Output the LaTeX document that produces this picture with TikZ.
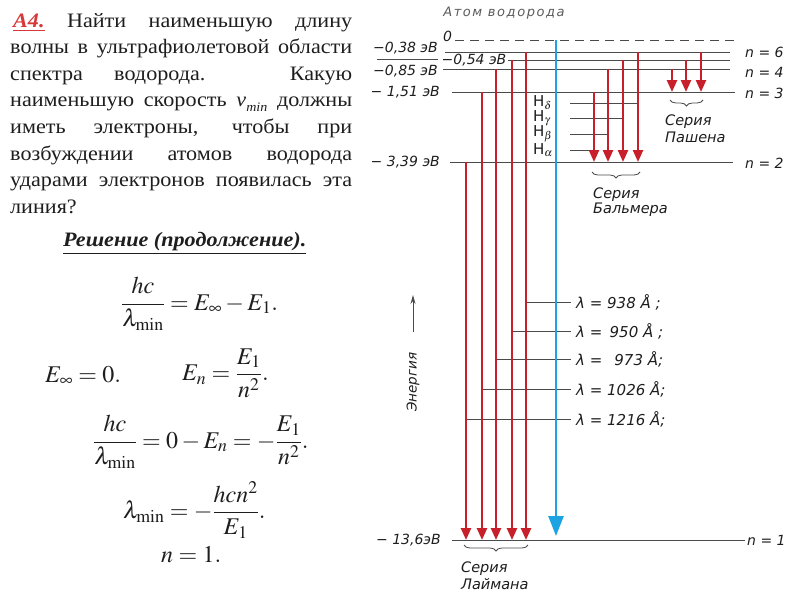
\documentclass[tikz,border=0pt]{standalone}
\usepackage{mathptmx}
\usepackage{fontspec}
\setmainfont{Liberation Serif}
\newfontfamily\paraf{Liberation Serif}[FakeStretch=1.08]
\newfontfamily\dg{DejaVu Sans}
\newfontfamily\dgsp{DejaVu Sans}[LetterSpace=12]
\usetikzlibrary{arrows.meta,decorations.pathreplacing}
\definecolor{lv}{HTML}{4A4A4A}
\definecolor{rd}{HTML}{C8202A}
\definecolor{bl}{HTML}{1CA3E2}
\definecolor{txt}{HTML}{1E1E1E}
\definecolor{redA}{HTML}{D83838}
\newcommand{\tl}[1]{\makebox[342pt][s]{#1}}
\begin{document}
\begin{tikzpicture}[x=1pt,y=-1pt,
  lvl/.style={draw=lv,line width=0.9pt},
  lead/.style={draw=lv,line width=0.8pt},
  redarrow/.style={draw=rd,line width=2.4pt,-{Triangle[width=10pt,length=12pt]}},
  bluearrow/.style={draw=bl,line width=2.6pt,-{Triangle[width=15pt,length=20pt]}},
  lab/.style={font=\dg\itshape\fontsize{14}{16}\selectfont,text=txt,inner sep=0pt},
  lam/.style={font=\dg\itshape\fontsize{15}{17}\selectfont,text=txt,inner sep=0pt,anchor=west},
  hlab/.style={font=\dg\fontsize{15}{17}\selectfont,text=txt,inner sep=0pt,anchor=west},
  ser/.style={font=\dg\itshape\fontsize{14.5}{16}\selectfont,text=txt,inner sep=0pt,anchor=west},
  brc/.style={draw=lv,line width=0.8pt,decorate,decoration={brace,amplitude=6pt,mirror}},
  para/.style={font=\paraf\fontsize{20.5}{26}\selectfont,text=txt,inner sep=0pt,anchor=base west},
  fml/.style={font=\fontsize{24}{28}\selectfont,text=txt,inner sep=0pt}]
\useasboundingbox (0,0) rectangle (800,600);
\fill[white] (0,0) rectangle (800,600);

% ---------- left text ----------
\node[para] (t1) at (10,27) {\tl{\hspace*{3pt}\textcolor{redA}{\underline{\textbf{\textit{A4.}}}} Найти наименьшую длину}};
\node[para] (t2) at (10,53.6) {\tl{волны в ультрафиолетовой области}};
\node[para] (t3) at (10,80.2) {\tl{спектра водорода. Какую}};
\node[para] (t4) at (10,106.8) {\tl{наименьшую скорость \textit{v}\raisebox{-5pt}{\fontsize{13}{13}\selectfont\textit{min}} должны}};
\node[para] (t5) at (10,133.4) {\tl{иметь электроны, чтобы при}};
\node[para] (t6) at (10,160) {\tl{возбуждении атомов водорода}};
\node[para] (t7) at (10,186.6) {\tl{ударами электронов появилась эта}};
\node[para] (t8) at (10,213.2) {линия?};
\node[para,font=\paraf\fontsize{20.5}{24}\selectfont\bfseries\itshape] (sol) at (63,246) {\underline{Решение (продолжение).}};

% ---------- formulas ----------
\node[fml,anchor=west] (f1) at (121,304) {$\displaystyle\frac{hc}{\lambda_{\min}}=E_{\infty}-E_{1}.$};
\node[fml,anchor=base west] (f2) at (45,382) {$E_{\infty}=0.$};
\node[fml,anchor=west] (f3) at (182,373) {$\displaystyle E_{n}=\frac{E_{1}}{n^{2}}.$};
\node[fml,anchor=west] (f4) at (93,442) {$\displaystyle\frac{hc}{\lambda_{\min}}=0-E_{n}=-\frac{E_{1}}{n^{2}}.$};
\node[fml,anchor=west] (f5) at (123,510) {$\displaystyle\lambda_{\min}=-\frac{hcn^{2}}{E_{1}}.$};
\node[fml,anchor=base west] (f6) at (161,562) {$n=1.$};

% ---------- diagram title ----------
\node[font=\dgsp\itshape\fontsize{13}{15}\selectfont,text=lv!90,inner sep=0pt] (title) at (504,13) {Атом водорода};

% ---------- levels ----------
\draw[lvl,dashed,dash pattern=on 9pt off 6pt] (455,40) -- (738,40);
\draw[lvl] (445,52) -- (730,52);
\draw[lvl] (377,59) -- (438,59);
\draw[lvl] (508,60) -- (730,60);
\draw[lvl] (443,69) -- (730,69);
\draw[lvl] (452,92) -- (735,92);
\draw[lvl] (450,162) -- (733,162);
\draw[lvl] (452,540) -- (745,540);

% level labels
\node[lab,anchor=west] (z0) at (443,36) {0};
\node[lab,anchor=east] (e6) at (438,48) {−0,38 эВ};
\node[lab] (e5) at (474,60) {−0,54 эВ};
\node[lab,anchor=east] (e4) at (438,71) {−0,85 эВ};
\node[lab,anchor=east] (e3) at (440,92) {− 1,51 эВ};
\node[lab,anchor=east] (e2) at (440,162) {− 3,39 эВ};
\node[lab,anchor=east] (e1) at (441,540) {− 13,6эВ};
\node[lab,anchor=west] (n6) at (745,52) {n = 6};
\node[lab,anchor=west] (n4) at (745,72) {n = 4};
\node[lab,anchor=west] (n3) at (745,93) {n = 3};
\node[lab,anchor=west] (n2) at (745,163) {n = 2};
\node[lab,anchor=west] (n1) at (747,540) {n = 1};

% ---------- H labels and leaders ----------
\node[hlab] (hd) at (533,103) {H$_{\delta}$};
\node[hlab] (hg) at (533,118) {H$_{\gamma}$};
\node[hlab] (hb) at (533,134) {H$_{\beta}$};
\node[hlab] (ha) at (533,150) {H$_{\alpha}$};
\coordinate (hd0) at (570,103); \coordinate (hd1) at (638,103);
\coordinate (hg0) at (570,118); \coordinate (hg1) at (623,118);
\coordinate (hb0) at (570,134); \coordinate (hb1) at (608,134);
\coordinate (ha0) at (570,150); \coordinate (ha1) at (594,150);
\draw[lead] (hd0) -- (hd1);
\draw[lead] (hg0) -- (hg1);
\draw[lead] (hb0) -- (hb1);
\draw[lead] (ha0) -- (ha1);

% ---------- lambda labels and leaders ----------
\node[lam] (l938) at (576,302) {λ = 938 Å ;};
\node[lam] (l950) at (576,331) {λ = \,950 Å ;};
\node[lam] (l973) at (576,359) {λ = \, 973 Å;};
\node[lam] (l1026) at (576,389) {λ = 1026 Å;};
\node[lam] (l1216) at (576,419) {λ = 1216 Å;};
\coordinate (m938) at (526,302);
\coordinate (m950) at (512,331);
\coordinate (m973) at (496,359);
\coordinate (m1026) at (482,389);
\coordinate (m1216) at (466,419);
\draw[lead] (m938) -- ++(45,0);
\draw[lead] (m950) -- ++(59,0);
\draw[lead] (m973) -- ++(75,0);
\draw[lead] (m1026) -- ++(89,0);
\draw[lead] (m1216) -- ++(105,0);

% ---------- Lyman series ----------
\coordinate (ly2) at (466,162); \coordinate (ly2b) at (466,540);
\coordinate (ly3) at (482,92);  \coordinate (ly3b) at (482,540);
\coordinate (ly4) at (496,69);  \coordinate (ly4b) at (496,540);
\coordinate (ly5) at (512,60);  \coordinate (ly5b) at (512,540);
\coordinate (ly6) at (526,52);  \coordinate (ly6b) at (526,540);
\draw[redarrow] (ly2) -- (ly2b);
\draw[redarrow] (ly3) -- (ly3b);
\draw[redarrow] (ly4) -- (ly4b);
\draw[redarrow] (ly5) -- (ly5b);
\draw[redarrow] (ly6) -- (ly6b);

% ---------- Balmer series ----------
\coordinate (ba3) at (594,92); \coordinate (ba3b) at (594,162);
\coordinate (ba4) at (608,69); \coordinate (ba4b) at (608,162);
\coordinate (ba5) at (623,60); \coordinate (ba5b) at (623,162);
\coordinate (ba6) at (638,52); \coordinate (ba6b) at (638,162);
\draw[redarrow] (ba3) -- (ba3b);
\draw[redarrow] (ba4) -- (ba4b);
\draw[redarrow] (ba5) -- (ba5b);
\draw[redarrow] (ba6) -- (ba6b);

% ---------- Paschen series ----------
\coordinate (pa4) at (672,69); \coordinate (pa4b) at (672,92);
\coordinate (pa5) at (686,60); \coordinate (pa5b) at (686,92);
\coordinate (pa6) at (701,52); \coordinate (pa6b) at (701,92);
\draw[redarrow] (pa4) -- (pa4b);
\draw[redarrow] (pa5) -- (pa5b);
\draw[redarrow] (pa6) -- (pa6b);

% ---------- ionization (blue) ----------
\coordinate (bt) at (556,40); \coordinate (bb) at (556,536);
\draw[bluearrow] (bt) -- (bb);

% ---------- braces and series names ----------
\draw[brc] (464,545) -- (528,545);
\draw[brc] (592,172) -- (640,172);
\draw[brc] (670,100) -- (703,100);
\node[ser] (lyS) at (461,569) {Серия};
\node[ser] (lyN) at (461,584) {Лаймана};
\node[ser] (baS) at (593,195) {Серия};
\node[ser] (baN) at (593,210) {Бальмера};
\node[ser] (paS) at (665,122) {Серия};
\node[ser] (paN) at (665,137) {Пашена};

% ---------- energy axis ----------
\coordinate (ea0) at (413,332); \coordinate (ea1) at (413,295);
\draw[draw=lv,line width=0.9pt,-{Stealth[length=9pt,width=5pt]}] (ea0) -- (ea1);
\node[font=\dg\itshape\fontsize{13.5}{15}\selectfont,text=txt,rotate=90,inner sep=0pt] (en) at (413,382) {Энергия};
\end{tikzpicture}
\end{document}
